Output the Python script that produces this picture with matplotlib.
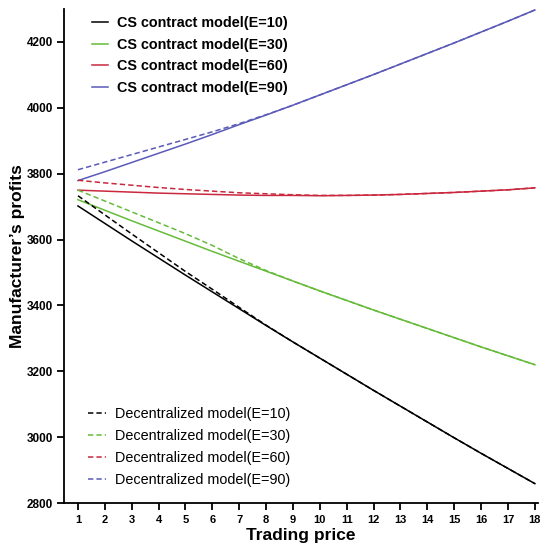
import numpy as np
import matplotlib
matplotlib.use("Agg")
import matplotlib.pyplot as plt

plt.rcParams['font.family'] = ['Liberation Sans', 'DejaVu Sans']

price = np.arange(1, 19)

# CS contract model (solid)
cs_e10 = [3702, 3649, 3596, 3544, 3492, 3441, 3390, 3339, 3289, 3240, 3191, 3142, 3094, 3046, 2998, 2951, 2905, 2859]
cs_e30 = [3721, 3689, 3657, 3626, 3595, 3564, 3534, 3504, 3474, 3444, 3415, 3386, 3358, 3330, 3302, 3274, 3247, 3220]
cs_e60 = [3750, 3747, 3744, 3741, 3739, 3737, 3735, 3734, 3734, 3733, 3734, 3735, 3737, 3740, 3743, 3747, 3751, 3757]
cs_e90 = [3779, 3806, 3834, 3862, 3890, 3919, 3949, 3978, 4008, 4039, 4070, 4101, 4133, 4165, 4197, 4230, 4263, 4297]

# Decentralized model (dashed)
de_e10 = [3733, 3675, 3617, 3560, 3503, 3449, 3394, 3340, 3289, 3240, 3191, 3142, 3094, 3046, 2998, 2951, 2905, 2859]
de_e30 = [3750, 3717, 3684, 3651, 3618, 3582, 3542, 3506, 3474, 3444, 3415, 3386, 3358, 3330, 3302, 3274, 3247, 3220]
de_e60 = [3780, 3772, 3765, 3758, 3752, 3747, 3742, 3739, 3736, 3734, 3734, 3735, 3737, 3740, 3743, 3747, 3751, 3757]
de_e90 = [3812, 3835, 3858, 3881, 3904, 3927, 3952, 3979, 4008, 4039, 4070, 4101, 4133, 4165, 4197, 4230, 4263, 4297]

e_labels = ["10", "30", "60", "90"]
colors = ["#000000", "#66bb3a", "#c9283f", "#5a5ab8"]

fig = plt.figure(figsize=(5.4, 5.48), dpi=100)
ax = fig.add_axes([0.1185, 0.082, 0.8775, 0.9016])

cs_lines = []
for vals, e, c in zip([cs_e10, cs_e30, cs_e60, cs_e90], e_labels, colors):
    ln, = ax.plot(price, vals, color=c, lw=1.1, label=f"CS contract model(E={e})")
    cs_lines.append(ln)

de_lines = []
for vals, e, c in zip([de_e10, de_e30, de_e60, de_e90], e_labels, colors):
    ln, = ax.plot(price, vals, color=c, lw=1.1, linestyle=(0, (3.5, 2)),
                  label=f"Decentralized model(E={e})")
    de_lines.append(ln)

ax.set_xlim(0.48, 18.11)
ax.set_ylim(2800, 4300)
ax.set_xticks(price)
ax.set_yticks(np.arange(2800, 4201, 200))

for side in ["top", "right"]:
    ax.spines[side].set_visible(False)
for side in ["left", "bottom"]:
    ax.spines[side].set_linewidth(1.3)

ax.tick_params(axis="both", direction="out", length=5, width=1.3)
ax.tick_params(axis="y", pad=3)
for lab in ax.get_xticklabels():
    lab.set_fontsize(8)
    lab.set_fontweight("bold")
for lab in ax.get_yticklabels():
    lab.set_fontsize(8.5)
    lab.set_fontweight("bold")

ax.set_xlabel("Trading price", fontsize=12.5, fontweight="bold", labelpad=2)
ax.set_ylabel("Manufacturer\u2019s profits", fontsize=12.5, fontweight="bold", labelpad=1)

leg1 = ax.legend(handles=cs_lines, loc="upper left", bbox_to_anchor=(0.059, 0.986),
                 frameon=False, borderpad=0, borderaxespad=0, handlelength=1.1,
                 handletextpad=0.6, labelspacing=0.53,
                 prop={"size": 10.4, "weight": "bold"})
ax.add_artist(leg1)
ax.legend(handles=de_lines, loc="upper left", bbox_to_anchor=(0.0506, 0.194),
          frameon=False, borderpad=0, borderaxespad=0, handlelength=1.25,
          handletextpad=0.6, labelspacing=0.55, prop={"size": 10.4})

fig.savefig("out.png", dpi=100)
